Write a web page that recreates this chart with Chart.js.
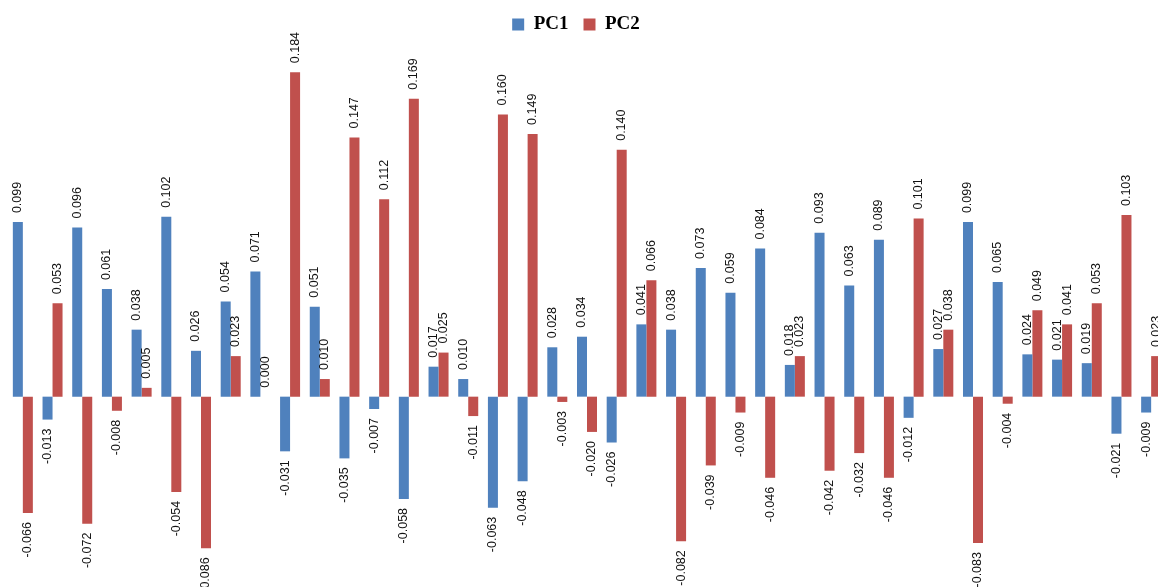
<!DOCTYPE html>
<html lang="en">
<head>
  <meta charset="UTF-8">
  <title>PC1 / PC2 loadings</title>
  <script src="https://cdn.jsdelivr.net/npm/chart.js"></script>
  <style>
    body {
      margin: 0;
      background: #fff;
      overflow: hidden;
    }
    .wrap {
      position: relative;
      width: 1166px;
      height: 587px;
    }
  </style>
</head>
<body>
  <div class="wrap">
    <canvas id="barChart"></canvas>
  </div>

  <script>
    const labels = Array.from({ length: 39 }, (_, i) => 'V' + (i + 1));

    const pc1 = [0.099, -0.013, 0.096, 0.061, 0.038, 0.102, 0.026, 0.054, 0.071, -0.031,
                 0.051, -0.035, -0.007, -0.058, 0.017, 0.010, -0.063, -0.048, 0.028, 0.034,
                 -0.026, 0.041, 0.038, 0.073, 0.059, 0.084, 0.018, 0.093, 0.063, 0.089,
                 -0.012, 0.027, 0.099, 0.065, 0.024, 0.021, 0.019, -0.021, -0.009];

    const pc2 = [-0.066, 0.053, -0.072, -0.008, 0.005, -0.054, -0.086, 0.023, 0.000, 0.184,
                 0.010, 0.147, 0.112, 0.169, 0.025, -0.011, 0.160, 0.149, -0.003, -0.020,
                 0.140, 0.066, -0.082, -0.039, -0.009, -0.046, 0.023, -0.042, -0.032, -0.046,
                 0.101, 0.038, -0.083, -0.004, 0.049, 0.041, 0.053, 0.103, 0.023];

    // value labels, rotated, above positive bars and below negative ones
    const valueLabels = {
      id: 'valueLabels',
      afterDatasetsDraw(chart) {
        const ctx = chart.ctx;
        ctx.save();
        ctx.font = '12.5px "Liberation Sans", Arial, sans-serif';
        ctx.fillStyle = '#111';
        ctx.textBaseline = 'middle';
        chart.data.datasets.forEach((ds, i) => {
          chart.getDatasetMeta(i).data.forEach((bar, j) => {
            const v = ds.data[j];
            ctx.save();
            if (v >= 0) {
              ctx.translate(bar.x, bar.y - 9);
              ctx.rotate(-Math.PI / 2);
              ctx.textAlign = 'left';
            } else {
              ctx.translate(bar.x, bar.y + 9);
              ctx.rotate(-Math.PI / 2);
              ctx.textAlign = 'right';
            }
            ctx.fillText(v.toFixed(3), 0, 0);
            ctx.restore();
          });
        });
        ctx.restore();
      }
    };

    // nudge the legend left so it sits in the middle of the visible picture
    const legendShift = {
      id: 'legendShift',
      afterLayout(chart) {
        chart.legend.left -= 11;
        chart.legend.right -= 11;
      }
    };

    new Chart(document.getElementById('barChart'), {
      type: 'bar',
      data: {
        labels: labels,
        datasets: [
          { label: 'PC1', data: pc1, backgroundColor: '#4F81BD' },
          { label: 'PC2', data: pc2, backgroundColor: '#C0504D' }
        ]
      },
      options: {
        responsive: true,
        maintainAspectRatio: false,
        animation: false,
        layout: { padding: { left: 8, right: 0, top: 0, bottom: 14 } },
        datasets: {
          bar: { categoryPercentage: 0.674, barPercentage: 1.0 }
        },
        scales: {
          x: { display: false },
          y: { display: false, min: -0.1, max: 0.2 }
        },
        plugins: {
          tooltip: { enabled: false },
          legend: {
            position: 'top',
            labels: {
              boxWidth: 12,
              boxHeight: 12,
              padding: 15,
              color: '#000',
              font: { family: '"Liberation Serif", serif', size: 19, weight: 'bold' }
            }
          }
        }
      },
      plugins: [valueLabels, legendShift]
    });
  </script>
</body>
</html>
